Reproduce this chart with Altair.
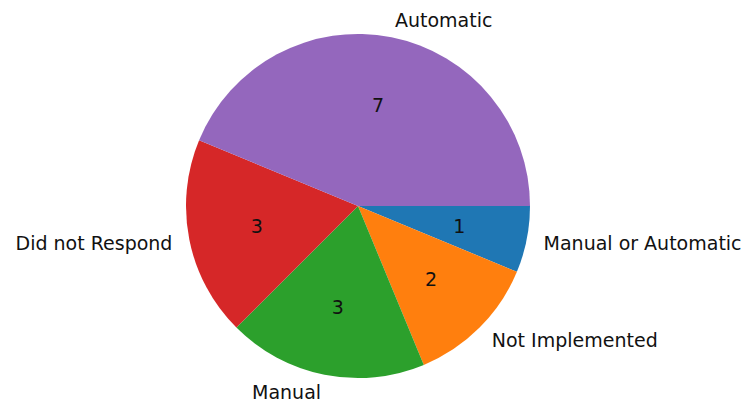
import math
import altair as alt
import pandas as pd

labels = ["Manual or Automatic", "Not Implemented", "Manual", "Did not Respond", "Automatic"]
counts = [1, 2, 3, 3, 7]
colors = ["#1f77b4", "#ff7f0e", "#2ca02c", "#d62728", "#9467bd"]

total = sum(counts)
starts, ends = [], []
acc = 0
for c in counts:
    starts.append(acc)
    acc += c
    ends.append(acc)
mids = [(s + e) / 2 for s, e in zip(starts, ends)]
start_angle = math.pi / 2
sides = ["left" if math.sin(start_angle + 2 * math.pi * m / total) > 0 else "right" for m in mids]

df = pd.DataFrame({
    "label": labels, "count": counts, "start": starts, "end": ends,
    "mid": mids, "side": sides, "num": [str(c) for c in counts],
})

R = 172
CX, CY = 350, 198
FONT = "DejaVu Sans"
FS = 19

theta_scale = alt.Scale(domain=[0, total], range=[start_angle, start_angle + 2 * math.pi])

base = alt.Chart(df)

pie = base.mark_arc(outerRadius=R, strokeWidth=0).encode(
    theta=alt.Theta("start:Q", scale=theta_scale, stack=None),
    theta2="end:Q",
    color=alt.Color("label:N", scale=alt.Scale(domain=labels, range=colors), legend=None),
    x=alt.value(CX), y=alt.value(CY),
)

nums = base.mark_text(font=FONT, fontSize=FS, color="#111", align="center", baseline="middle", dy=1).encode(
    theta=alt.Theta("mid:Q", scale=theta_scale, stack=None),
    radius=alt.value(0.6 * R),
    text="num:N",
    x=alt.value(CX), y=alt.value(CY),
)

left_labels = base.transform_filter(alt.datum.side == "left").mark_text(
    font=FONT, fontSize=FS, color="#111", align="left", baseline="middle", dy=1).encode(
    theta=alt.Theta("mid:Q", scale=theta_scale, stack=None),
    radius=alt.value(1.1 * R),
    text="label:N",
    x=alt.value(CX), y=alt.value(CY),
)

right_labels = base.transform_filter(alt.datum.side == "right").mark_text(
    font=FONT, fontSize=FS, color="#111", align="right", baseline="middle", dy=1).encode(
    theta=alt.Theta("mid:Q", scale=theta_scale, stack=None),
    radius=alt.value(1.1 * R),
    text="label:N",
    x=alt.value(CX), y=alt.value(CY),
)

chart = alt.layer(pie, nums, left_labels, right_labels).properties(
    width=735, height=392, padding=0, autosize=alt.AutoSizeParams(type="none"),
).configure_view(strokeWidth=0)

chart.save("out.html", embed_options={"renderer": "svg", "actions": False})
